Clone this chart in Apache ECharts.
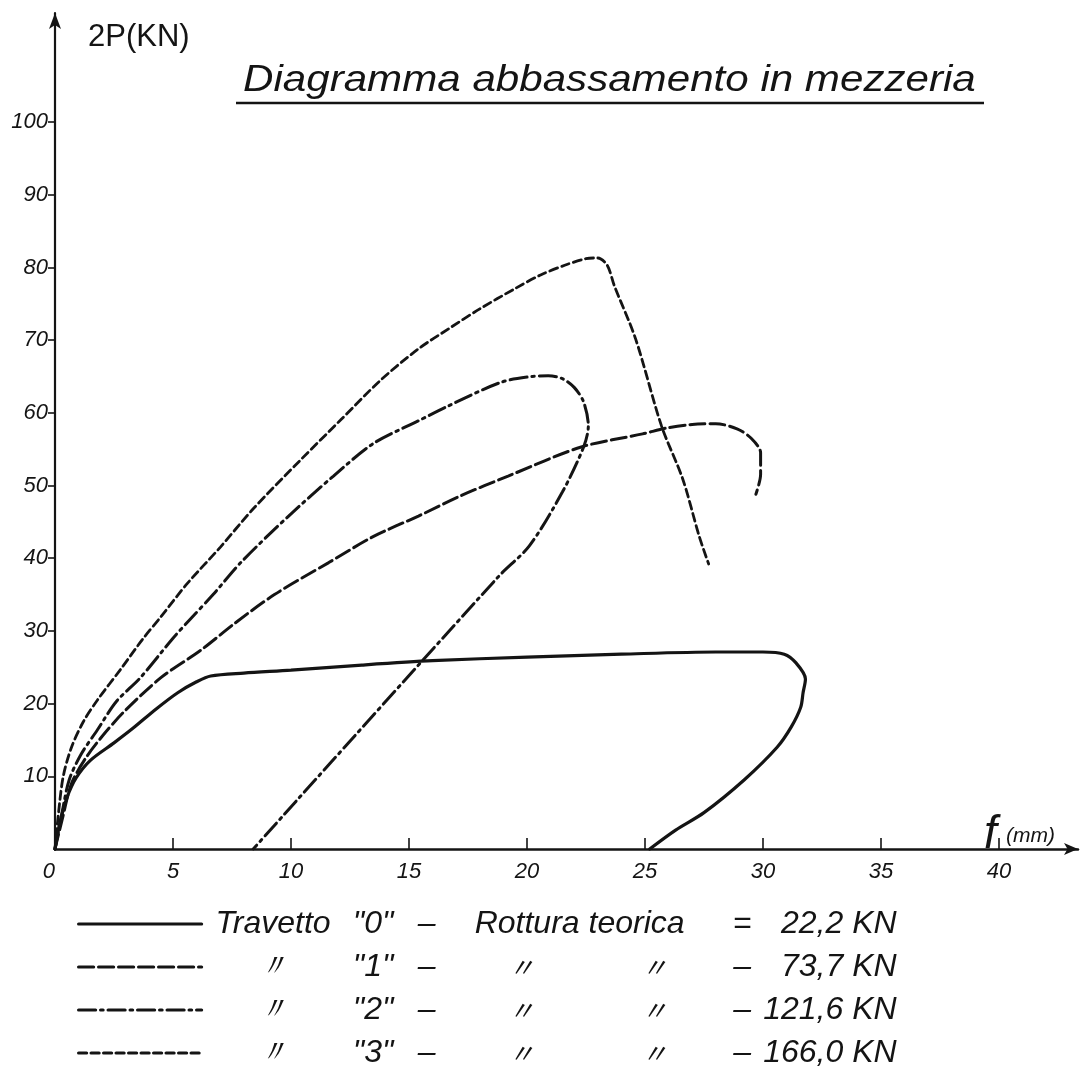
<!DOCTYPE html>
<html>
<head>
<meta charset="utf-8">
<script src="https://cdn.jsdelivr.net/npm/echarts@6/dist/echarts.min.js"></script>
<style>html,body{margin:0;padding:0;background:#fff;}#c{width:1082px;height:1075px;}</style>
</head>
<body>
<div id="c"></div>
<script>
// ---- data (deflection f in mm, load 2P in kN) ----
const beam0X = [0,0.2,0.5,0.9,1.5,2.5,3.3,4.3,5.2,6.0,6.6,8,10,13,16,20,24,28,30,30.9,31.4,31.8,31.7,31.6,31.2,30.6,29.2,27.5,26.3,25.2];
const beam0Y = [0,3.5,7,9.8,12.2,14.6,16.6,19.3,21.5,23.0,23.8,24.2,24.6,25.3,25.9,26.4,26.8,27.1,27.1,26.8,25.6,23.4,21.5,19.5,16.8,14.0,9.5,5.0,2.6,0];

const beam1X = [0,0.3,0.7,1.3,2.0,2.9,4.5,6.2,7.6,9.3,11.6,13.5,15.4,17.2,19.2,22.3,24.9,25.9,27.0,28.0,28.9,29.5,29.9,29.9,29.7];
const beam1Y = [0,4,9,12.5,15.5,18.8,23.6,27.4,31.0,35.0,39.4,43.0,45.8,48.6,51.3,55.3,57.1,57.9,58.4,58.5,57.8,56.5,54.5,51.5,48.8];

const beam2X = [0,0.3,0.6,1.1,1.8,2.6,3.6,5.0,5.7,6.7,7.9,9.9,11.8,13.5,15.4,16.7,18.9,20.2,20.9,21.5,22.0,22.4,22.6,22.4,21.5,20.1,18.8,8.4];
const beam2Y = [0,5,9.5,13,16.4,20.3,23.5,29.0,31.5,35.0,39.5,45.8,51.3,55.8,58.9,61.0,64.2,65.0,65.1,64.7,63.5,61.5,58.2,55.3,49.1,41.7,37.5,0];

const beam3X = [0,0.15,0.35,0.7,1.2,1.8,2.8,3.7,4.5,5.6,7.0,8.4,10.4,12.1,13.8,15.4,16.7,18.0,19.5,20.6,21.6,22.5,23.0,23.4,23.7,24.6,25.7,26.6,27.3,27.7];
const beam3Y = [0,5,10,14,17.5,20.5,24.8,28.8,32.0,36.5,41.5,46.8,53.5,59.0,64.5,68.8,71.6,74.3,77.1,79.0,80.3,81.2,81.3,80.3,77.5,70.2,58.2,50.9,43.0,39.2];

const beamNames = ['Travetto "0"', 'Travetto "1"', 'Travetto "2"', 'Travetto "3"'];
const beamCodes = ['"0"', '"1"', '"2"', '"3"'];
const ruptureLoads = ['22,2 KN', '73,7 KN', '121,6 KN', '166,0 KN'];

const xTicks = [0,5,10,15,20,25,30,35,40];
const yTicks = [10,20,30,40,50,60,70,80,90,100];

const titleText = 'Diagramma abbassamento in mezzeria';
const yName = '2P(KN)';
// ---------------------------------------------------

function pairs(xs, ys) { return xs.map((x, i) => [x, ys[i]]); }

const ink = '#141414';
const handFont = '"Liberation Sans", "DejaVu Sans", sans-serif';

const chart = echarts.init(document.getElementById('c'), null, {renderer: 'canvas'});

const styles = [
  {type: 'solid', width: 3.2},
  {type: [15, 5], width: 3},
  {type: [17, 5, 2.5, 5], width: 3},
  {type: [8, 4.5], width: 2.8}
];
const seriesData = [pairs(beam0X, beam0Y), pairs(beam1X, beam1Y), pairs(beam2X, beam2Y), pairs(beam3X, beam3Y)];

const richBase = {fontSize: 32, fontStyle: 'italic', fontFamily: handFont, color: ink, lineHeight: 30, height: 30};
const dittoBase = {fontSize: 26, fontFamily: '"Noto Sans CJK JP", sans-serif', color: ink, lineHeight: 30, height: 30};

const option = {
  backgroundColor: '#fff',
  animation: false,
  grid: {left: 55, right: 4, top: 13, bottom: 226, containLabel: false},
  xAxis: {
    type: 'value', min: 0, max: 43.35, interval: 5,
    axisLine: {show: true, lineStyle: {color: ink, width: 2.5}, symbol: ['none', 'arrow'], symbolSize: [9, 14]},
    axisTick: {show: true, inside: true, length: 11, lineStyle: {color: ink, width: 1.6}, customValues: xTicks.slice(1)},
    axisLabel: {show: true, customValues: xTicks, margin: 12, color: ink, fontSize: 22, fontStyle: 'italic', fontFamily: handFont, alignMinLabel: 'right'},
    splitLine: {show: false}
  },
  yAxis: {
    type: 'value', min: 0, max: 115, interval: 10,
    axisLine: {show: true, lineStyle: {color: ink, width: 2.2}, symbol: ['none', 'arrow'], symbolSize: [9, 16]},
    axisTick: {show: true, length: 7, lineStyle: {color: ink, width: 1.6}, customValues: yTicks},
    axisLabel: {show: true, customValues: yTicks, margin: 7, color: ink, fontSize: 22, fontStyle: 'italic', fontFamily: handFont,
      formatter: v => (v > 0 && v <= 100 ? String(v) : '')},
    splitLine: {show: false}
  },
  legend: {
    show: true, type: 'plain', orient: 'vertical', left: 72, top: 903, height: 170, width: 900,
    itemWidth: 123, itemHeight: 14, itemGap: 11, selectedMode: false,
    itemStyle: {opacity: 0, borderWidth: 0},
    lineStyle: {width: 3.2},
    data: beamNames,
    formatter: function (name) {
      const i = beamNames.indexOf(name);
      if (i === 0) {
        return '{n|Travetto}{q|' + beamCodes[i] + '}{d|–}{r|Rottura teorica}{e|=}{v|' + ruptureLoads[i] + '}';
      }
      return '{n|〃}{q|' + beamCodes[i] + '}{d|–}{m1|〃}{m2|〃}{e|–}{v|' + ruptureLoads[i] + '}';
    },
    textStyle: Object.assign({}, richBase, {
      rich: {
        n:  Object.assign({width: 133, align: 'center'}, richBase),
        q:  Object.assign({width: 67, align: 'center'}, richBase),
        d:  Object.assign({width: 40, align: 'center'}, richBase),
        r:  Object.assign({width: 266, align: 'center'}, richBase),
        m1: Object.assign({width: 150, align: 'center'}, dittoBase),
        m2: Object.assign({width: 116, align: 'center'}, dittoBase),
        e:  Object.assign({width: 59, align: 'center'}, richBase),
        v:  Object.assign({width: 125, align: 'right'}, richBase)
      }
    })
  },
  graphic: [
    {type: 'text', left: 243, top: 63, scaleX: 1.17,
      style: {text: titleText, font: 'italic 36px ' + handFont, fill: ink}},
    {type: 'line', shape: {x1: 236, y1: 103, x2: 984, y2: 103}, style: {stroke: ink, lineWidth: 2.5}},
    {type: 'text', left: 88, top: 22,
      style: {text: yName, font: '31px ' + handFont, fill: ink}},
    {type: 'text', left: 984, top: 812,
      style: {text: 'f', font: 'italic 46px ' + handFont, fill: ink}},
    {type: 'text', left: 1006, top: 826,
      style: {text: '(mm)', font: 'italic 21px ' + handFont, fill: ink}}
  ],
  series: seriesData.map((d, i) => ({
    name: beamNames[i],
    type: 'line',
    data: d,
    smooth: 0.3,
    symbol: 'none',
    showSymbol: false,
    clip: false,
    lineStyle: {color: ink, width: styles[i].width, type: styles[i].type, cap: 'round'},
    itemStyle: {color: ink}
  }))
};

chart.setOption(option);
</script>
</body>
</html>
